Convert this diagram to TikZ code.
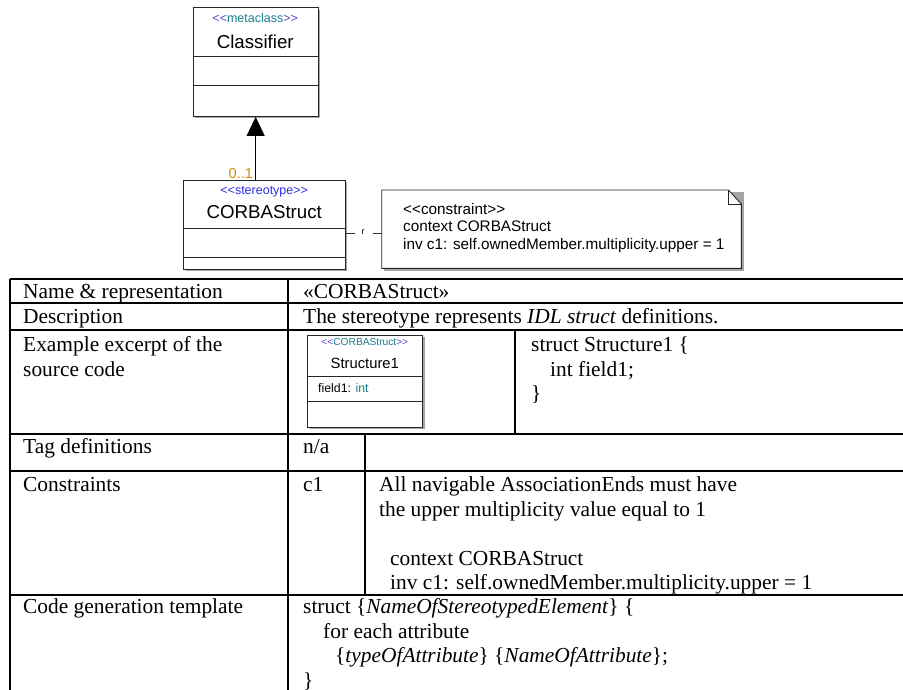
\documentclass[tikz,border=0pt]{standalone}
\usepackage{fontspec}
\setmainfont{Liberation Serif}
\newfontfamily\umlfont{Liberation Sans}
\usetikzlibrary{arrows.meta,shadows}
\definecolor{stblue}{RGB}{45,45,235}
\definecolor{stpurple}{RGB}{95,70,215}
\definecolor{stteal}{RGB}{25,125,140}
\definecolor{multcol}{RGB}{205,140,20}
\definecolor{shadowgray}{RGB}{165,165,165}
\begin{document}
\begin{tikzpicture}[x=1pt,y=-1pt,
  umlbox/.style={draw=black!85, line width=0.9pt, fill=white, inner sep=0pt, anchor=north west,
    drop shadow={shadow xshift=2pt, shadow yshift=-2pt, fill=shadowgray, opacity=1}},
  umlline/.style={draw=black!85, line width=0.9pt},
  tbl/.style={line width=1.5pt, black},
  txt/.style={anchor=base west, inner sep=0pt, font=\fontsize{21.4}{24.5}\selectfont},
  notetxt/.style={anchor=base west, inner sep=0pt, font=\umlfont\fontsize{15.3}{17}\selectfont},
  cname/.style={anchor=base, inner sep=0pt, font=\umlfont\fontsize{18.7}{20}\selectfont},
  stereo/.style={anchor=base, inner sep=0pt, font=\umlfont\fontsize{12.5}{14}\selectfont}
]
\useasboundingbox (0,0) rectangle (903,690);

% ---------- Classifier ----------
\node[umlbox, minimum width=125pt, minimum height=108.7pt] (cls) at (192.7,7.3) {};
\draw[umlline] (192.7,56.7) -- (317.7,56.7);
\draw[umlline] (192.7,85.7) -- (317.7,85.7);
\node[stereo] (clsst) at (255.2,22.5) {\textcolor{stpurple}{<<}\textcolor{stteal}{metaclass}\textcolor{stpurple}{>>}};
\node[cname] (clsname) at (255.2,48.3) {Classifier};

% ---------- CORBAStruct ----------
\node[umlbox, minimum width=161.7pt, minimum height=89pt] (cs) at (183.3,180) {};
\draw[umlline] (183.3,228) -- (345,228);
\draw[umlline] (183.3,257.7) -- (345,257.7);
\node[stereo] (csst) at (264.2,194) {\textcolor{stblue}{<<stereotype>>}};
\node[cname] (csname) at (264.2,218.4) {CORBAStruct};

% generalization arrow
\draw[line width=0.9pt, -{Triangle[width=18pt,length=19pt]}] (cs.north -| cls.south) -- (cls.south);
\node[anchor=base, inner sep=0pt, font=\umlfont\fontsize{14.5}{15}\selectfont, text=multcol] (mult) at (240.8,178.3) {0..1};

% ---------- Note ----------
\fill[shadowgray] (384,192.5) rectangle (743.5,270.5);
\node[minimum width=359.3pt, minimum height=78pt, anchor=north west, inner sep=0pt] (note) at (381.7,190) {};
\draw[umlline, fill=white] (note.north west) -- ([xshift=-13pt]note.north east) -- ([yshift=-14pt]note.north east)
  -- (note.south east) -- (note.south west) -- cycle;
\draw[umlline] ([xshift=-13pt]note.north east) -- ([xshift=-13pt,yshift=-14pt]note.north east) -- ([yshift=-14pt]note.north east);
\node[notetxt] (n1) at (403,214.5) {<<constraint>>};
\node[notetxt] (n2) at (403,232) {context CORBAStruct};
\node[notetxt] (n3) at (403,249.5) {inv c1: self.ownedMember.multiplicity.upper = 1};

% dashed connector to note
\draw[line width=0.8pt, black!80, dash pattern=on 9pt off 18pt] (cs.east |- 0,233.5) -- (note.west |- 0,233.5);
\node[inner sep=0pt, font=\umlfont\fontsize{9}{9}\selectfont] (rlab) at (363,232) {r};

% ---------- Table ----------
\foreach \yy in {279,303,330,434,471,595} \draw[tbl] (10,\yy) -- (903,\yy);
\draw[tbl] (10,279) -- (10,690);
\draw[tbl] (288,279) -- (288,690);
\draw[tbl] (515,330) -- (515,434);
\draw[tbl] (365,434) -- (365,595);

\node[txt] (t1a) at (23,298) {Name \& representation};
\node[txt] (t1b) at (303,298) {«CORBAStruct»};
\node[txt] (t2a) at (23,323) {Description};
\node[txt] (t2b) at (303,323) {The stereotype represents \textit{IDL struct} definitions.};
\node[txt] (t3a) at (23,351.5) {Example excerpt of the};
\node[txt] (t3b) at (23,376) {source code};
\node[txt] (t3c) at (531,351.5) {struct Structure1 \{};
\node[txt] (t3d) at (550,376) {int field1;};
\node[txt] (t3e) at (531,400.5) {\}};
\node[txt] (t4a) at (23,453.5) {Tag definitions};
\node[txt] (t4b) at (303,453.5) {n/a};
\node[txt] (t5a) at (23,491.5) {Constraints};
\node[txt] (t5b) at (303,491.5) {c1};
\node[txt] (t5c) at (379,491.5) {All navigable AssociationEnds must have};
\node[txt] (t5d) at (379,516) {the upper multiplicity value equal to 1};
\node[txt] (t5e) at (390,565) {context CORBAStruct};
\node[txt] (t5f) at (390,589.5) {inv c1: self.ownedMember.multiplicity.upper = 1};
\node[txt] (t6a) at (23,613.5) {Code generation template};
\node[txt] (t6b) at (303,613.5) {struct \{\textit{NameOfStereotypedElement}\} \{};
\node[txt] (t6c) at (323,638) {for each attribute};
\node[txt] (t6d) at (335,662.5) {\{\textit{typeOfAttribute}\} \{\textit{NameOfAttribute}\};};
\node[txt] (t6e) at (303,687) {\}};

% ---------- Structure1 example ----------
\node[umlbox, minimum width=115pt, minimum height=91.7pt] (s1) at (307.3,335) {};
\draw[umlline] (307.3,376.7) -- (422.3,376.7);
\draw[umlline] (307.3,401.7) -- (422.3,401.7);
\node[anchor=base, inner sep=0pt, font=\umlfont\fontsize{10.2}{11}\selectfont] (s1st) at (364.8,345.5)
  {\textcolor{stpurple}{<<}\textcolor{stteal}{CORBAStruct}\textcolor{stpurple}{>>}};
\node[anchor=base, inner sep=0pt, font=\umlfont\fontsize{14.8}{16}\selectfont] (s1name) at (364.8,368.3) {Structure1};
\node[anchor=base west, inner sep=0pt, font=\umlfont\fontsize{12.3}{13}\selectfont] (s1attr) at (318,392.3)
  {field1: \textcolor{stteal}{int}};
\end{tikzpicture}
\end{document}
